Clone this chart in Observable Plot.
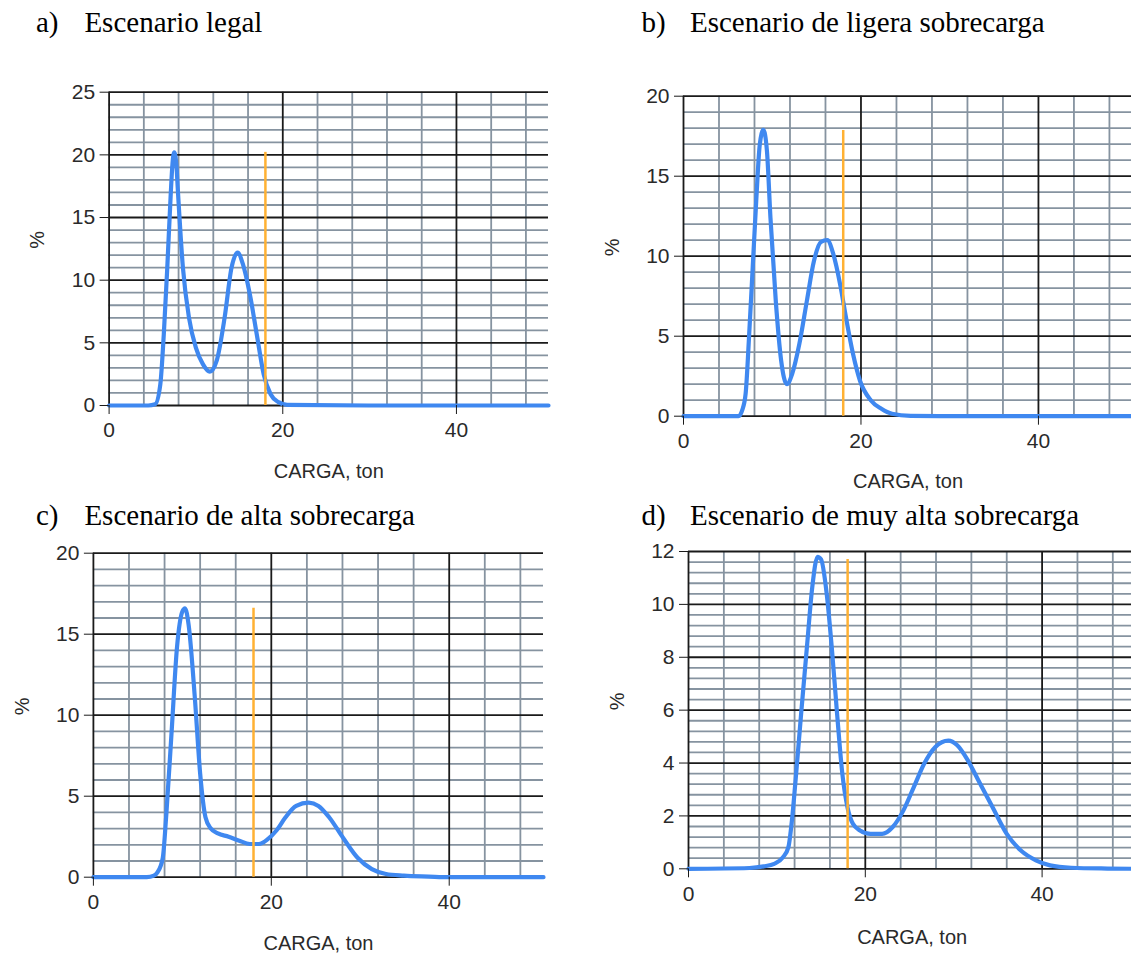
<!DOCTYPE html>
<html><head><meta charset="utf-8">
<script src="https://cdn.jsdelivr.net/npm/d3@7"></script>
<script src="https://cdn.jsdelivr.net/npm/@observablehq/plot@0.6"></script>
<style>
html,body{margin:0;padding:0;background:#fff;overflow:hidden;}
body{width:1131px;height:956px;position:relative;}
.t{position:absolute;font-family:"Liberation Serif","Times New Roman",serif;font-size:29px;line-height:29px;color:#000;white-space:nowrap;}
.p{position:absolute;}
</style></head><body>
<script>
// ---- data ----
const titles = ["Escenario legal", "Escenario de ligera sobrecarga", "Escenario de alta sobrecarga", "Escenario de muy alta sobrecarga"];
const letters = ["a)", "b)", "c)", "d)"];
const xLabel = "CARGA, ton";
const yLabel = "%";
const legalLimit = 18;

const xA = [0, 4.5, 5.3, 5.9, 6.3, 6.7, 7.1, 7.3, 7.5, 7.75, 7.9, 8.5, 9.2, 10.0, 10.8, 11.6, 12.4, 13.3, 14.1, 14.8, 15.4, 16.2, 17.0, 17.8, 18.6, 19.5, 20.5, 30, 50.6];
const yA = [0, 0, 0.1, 1.7, 5.7, 11.0, 16.9, 19.3, 20.2, 19.2, 17.4, 11.0, 7.0, 4.6, 3.3, 2.7, 3.6, 7.0, 11.0, 12.2, 11.3, 8.9, 5.7, 2.5, 0.9, 0.27, 0.05, 0, 0];
const topA = 20.2;

const xB = [0, 6.2, 6.6, 7.0, 7.4, 7.8, 8.2, 8.6, 9.0, 9.4, 9.8, 10.4, 11.0, 11.65, 12.25, 13.05, 13.9, 14.7, 15.5, 16.2, 16.9, 17.7, 18.3, 19.1, 19.9, 21.1, 22.3, 23.5, 25.6, 30, 50.6];
const yB = [0, 0, 0.35, 1.4, 5.1, 9.3, 13.5, 17.0, 17.9, 16.6, 12.4, 7.2, 3.5, 2.0, 2.65, 4.5, 7.2, 9.7, 10.9, 11.0, 10.1, 8.1, 6.2, 3.9, 2.2, 1.0, 0.46, 0.15, 0.02, 0, 0];
const topB = 17.85;

const xC = [0, 6.0, 6.8, 7.2, 7.8, 8.2, 8.8, 9.4, 10.0, 10.3, 10.7, 11.4, 12.0, 12.6, 13.2, 14.0, 15.2, 16.4, 17.6, 18.6, 19.6, 20.6, 21.6, 22.8, 24.2, 25.3, 26.5, 28.1, 29.7, 31.3, 32.9, 34.9, 37.7, 40, 50.6];
const yC = [0, 0, 0.1, 0.3, 1.2, 3.9, 9.05, 14.2, 16.4, 16.6, 15.6, 11.1, 6.4, 3.7, 3.0, 2.7, 2.5, 2.25, 2.05, 2.05, 2.35, 2.9, 3.7, 4.4, 4.6, 4.4, 3.7, 2.4, 1.2, 0.5, 0.2, 0.1, 0.04, 0, 0];
const topC = 16.6;

const xD = [0, 6.9, 8.5, 9.7, 10.7, 11.3, 11.7, 12.1, 12.75, 13.4, 14.0, 14.6, 15.0, 15.6, 16.2, 16.8, 17.4, 18.0, 18.6, 19.4, 20.6, 21.9, 23.1, 24.3, 25.5, 26.7, 27.9, 29.4, 30.4, 31.6, 32.8, 34.4, 36.0, 37.6, 39.3, 40.9, 43.3, 47.4, 50.6];
const yD = [0, 0.03, 0.09, 0.19, 0.44, 0.82, 1.83, 3.3, 5.9, 8.4, 10.65, 11.8, 11.7, 10.5, 8.4, 5.9, 3.6, 2.3, 1.7, 1.45, 1.32, 1.32, 1.58, 2.2, 3.1, 4.0, 4.6, 4.85, 4.67, 4.1, 3.34, 2.33, 1.32, 0.69, 0.32, 0.13, 0.04, 0.01, 0];
const topD = 11.7;

const xTicks = [0, 20, 40];
const yTicksA = [0, 5, 10, 15, 20, 25];
const yTicksB = [0, 5, 10, 15, 20];
const yTicksC = [0, 5, 10, 15, 20];
const yTicksD = [0, 2, 4, 6, 8, 10, 12];

// ---- layout ----
const panels = [
  {xs: xA, ys: yA, top: topA, yTicks: yTicksA, yMax: 25, yStep: 1,
   left: 0, topPx: 50, width: 560, height: 440, mL: 108.6, mR: 12, mT: 41.7, mB: 85, lab: 72,
   tl: 36, tt: 7.7},
  {xs: xB, ys: yB, top: topB, yTicks: yTicksB, yMax: 20, yStep: 1,
   left: 570, topPx: 55, width: 565, height: 440, mL: 113, mR: 3, mT: 40.7, mB: 79.3, lab: 72,
   tl: 641.6, tt: 7.7},
  {xs: xC, ys: yC, top: topC, yTicks: yTicksC, yMax: 20, yStep: 1,
   left: 0, topPx: 535, width: 560, height: 421, mL: 92.9, mR: 17, mT: 17.7, mB: 79.3, lab: 73,
   tl: 36, tt: 500.7},
  {xs: xD, ys: yD, top: topD, yTicks: yTicksD, yMax: 12, yStep: 0.4,
   left: 570, topPx: 535, width: 570, height: 421, mL: 118, mR: 4.7, mT: 16, mB: 87.7, lab: 75,
   tl: 641.6, tt: 500.7}
];

const minorColor = "#8693a0";
const majorColor = "#1a1a1a";
const blue = "#3f88f0";
const orange = "#ffb133";
const textColor = "#2a2a2a";

panels.forEach((p, i) => {
  // titles
  const a = document.createElement("div");
  a.className = "t"; a.textContent = letters[i];
  a.style.left = p.tl + "px"; a.style.top = p.tt + "px";
  document.body.appendChild(a);
  const b = document.createElement("div");
  b.className = "t"; b.textContent = titles[i];
  b.style.left = (p.tl + 48.4) + "px"; b.style.top = p.tt + "px";
  document.body.appendChild(b);

  const data = p.xs.map((x, k) => ({x, y: p.ys[k]}));
  const xMinor = d3.range(4, 50.6, 4).filter(v => v % 20 !== 0);
  const yMinor = d3.range(0, p.yMax + 1e-9, p.yStep).filter(v => !p.yTicks.some(t => Math.abs(t - v) < 1e-6));

  const chart = Plot.plot({
    width: p.width,
    height: p.height,
    marginLeft: p.mL, marginRight: p.mR, marginTop: p.mT, marginBottom: p.mB,
    x: {domain: [0, 50.6]},
    y: {domain: [0, p.yMax]},
    style: {fontFamily: "'Liberation Sans', Arial, sans-serif", fontSize: "21px", color: textColor, background: "transparent", overflow: "visible"},
    marks: [
      Plot.gridX({ticks: xMinor, stroke: minorColor, strokeOpacity: 1, strokeWidth: 1.8}),
      Plot.gridY({ticks: yMinor, stroke: minorColor, strokeOpacity: 1, strokeWidth: 1.8}),
      Plot.gridX({ticks: xTicks, stroke: majorColor, strokeOpacity: 1, strokeWidth: 1.8}),
      Plot.gridY({ticks: p.yTicks, stroke: majorColor, strokeOpacity: 1, strokeWidth: 1.8}),
      Plot.line(data, {x: "x", y: "y", stroke: blue, strokeWidth: 4.2, curve: "monotone-x", strokeLinejoin: "round", strokeLinecap: "round"}),
      Plot.ruleX([legalLimit], {y1: 0, y2: p.top, stroke: orange, strokeWidth: 2.5}),
      Plot.axisX({ticks: xTicks, tickSize: 9, tickPadding: 8, stroke: majorColor, tickFormat: d => String(d), label: null}),
      Plot.axisY({ticks: p.yTicks, tickSize: 9, tickPadding: 5, stroke: majorColor, tickFormat: d => String(d), label: null}),
      Plot.text([xLabel], {text: d => d, frameAnchor: "bottom", dy: p.lab, lineAnchor: "bottom", fill: textColor, fontSize: 20}),
      Plot.text([yLabel], {text: d => d, frameAnchor: "left", dx: -79, rotate: -90, lineAnchor: "top", fill: textColor, fontSize: 20})
    ]
  });
  chart.classList.add("p");
  chart.style.left = p.left + "px";
  chart.style.top = p.topPx + "px";
  document.body.appendChild(chart);
});
</script>
</body></html>
